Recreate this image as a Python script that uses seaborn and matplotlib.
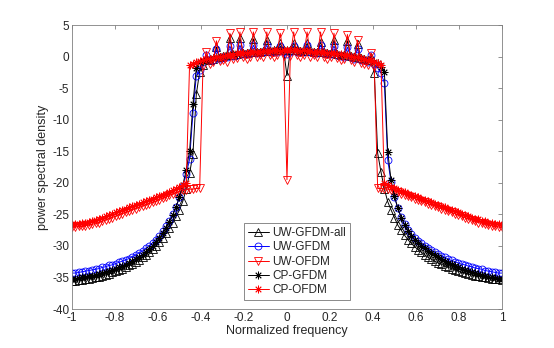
import numpy as np
import matplotlib
matplotlib.use('Agg')
import matplotlib.pyplot as plt
import seaborn as sns

# normalized frequency grid, step 1/64
freq = np.arange(-64, 65) / 64

uw_gfdm_all = [
    -35.5, -35.5, -35.4, -35.4, -35.3, -35.2, -35.1, -35.0, -34.9, -34.7,
    -34.6, -34.4, -34.2, -34.0, -33.8, -33.6, -33.3, -33.1, -32.8, -32.5,
    -32.2, -31.8, -31.4, -31.0, -30.5, -30.0, -29.4, -28.8, -28.0, -27.2,
    -26.3, -25.3, -24.3, -22.9, -21.0, -18.5,
    -15.5, -6.0,
    -2.4, -1.3, -0.3, -0.5, -0.3, 1.5, -0.1, 0.1, 0.2, 2.9,
    0.3, 0.4, 2.9, 0.6, 0.6, 0.7, 2.8, 0.8, 0.8, 0.9,
    2.6, 0.9, 1.0, 1.0, 2.1, 1.0, -3.0, 1.0, 2.1, 1.0,
    0.9, 0.9, 2.1, 0.9, 0.8, 0.8, 2.3, 0.7, 0.6, 0.6,
    2.6, 0.4, 0.3, 0.3, 2.5, 0.1, 0.0, 2.0, -0.2, -0.4,
    -0.5, 0.0,
    -2.6, -15.3, -18.3, -21.0, -23.0, -24.3, -25.5, -26.7, -27.5, -28.3,
    -29.0, -29.6, -30.1, -30.6, -31.0, -31.4, -31.8, -32.1, -32.4, -32.7,
    -32.9, -33.2, -33.4, -33.6, -33.8, -34.0, -34.2, -34.3, -34.5, -34.6,
    -34.7, -34.8, -34.9, -35.0, -35.1, -35.2, -35.3, -35.3, -35.4,
]

uw_gfdm = [
    -34.3, -34.3, -34.2, -34.1, -34.0, -33.9, -33.8, -33.7, -33.6, -33.4,
    -33.3, -33.1, -33.0, -32.8, -32.6, -32.4, -32.2, -32.0, -31.7, -31.4,
    -31.1, -30.8, -30.4, -30.0, -29.5, -29.0, -28.4, -27.7, -26.9, -26.0,
    -25.0, -23.8, -22.3, -20.5, -18.6, -16.3,
    -9.0, -3.0, -2.2,
    -0.9, 0.3, -0.6, -0.5, 1.2, -0.3, -0.1, 0.0, 1.7, 0.1,
    0.2, 1.8, 0.4, 0.4, 0.5, 1.8, 0.6, 0.6, 0.7, 1.8,
    0.7, 0.8, 0.8, 1.7, 0.8, 0.4, 0.8, 1.7, 0.8, 0.8,
    0.7, 1.8, 0.7, 0.6, 0.6, 1.8, 0.5, 0.4, 0.4, 1.7,
    0.2, 0.1, 0.0, 1.5, -0.1, -0.3, 1.2, -0.5, -0.6, -0.8,
    0.3, -1.2, -1.8,
    -2.6, -4.2,
    -16.4, -19.9, -22.3, -24.0, -25.4, -26.5, -27.4, -28.1, -28.7, -29.2,
    -29.6, -30.0, -30.4, -30.7, -31.0, -31.3, -31.6, -31.8, -32.1, -32.3,
    -32.5, -32.7, -32.9, -33.0, -33.2, -33.3, -33.5, -33.6, -33.7, -33.9,
    -34.0, -34.1, -34.2, -34.3, -34.3,
]

uw_ofdm = [
    -27.0, -27.0, -26.9, -26.9, -26.8, -26.7, -26.6, -26.4, -26.3, -26.1,
    -25.9, -25.7, -25.5, -25.3, -25.1, -24.9, -24.7, -24.5, -24.3, -24.1,
    -23.9, -23.7, -23.5, -23.3, -23.1, -22.9, -22.7, -22.4, -22.2, -22.0,
    -21.8, -21.6, -21.4, -21.2, -21.1, -21.0, -21.0, -20.9, -20.9,
    -1.5, 0.8, -1.2, -0.9, 2.5, -0.7, -0.5, -0.8, 3.7, -0.4,
    -0.2, 3.9, -0.1, -0.3, 0.0, 3.9, -0.1, 0.2, 0.0, 3.9,
    0.2, 0.0, 0.3, 3.7, 0.1, -19.5, 0.1, 3.9, 0.3, 0.0,
    0.2, 3.9, 0.0, 0.2, -0.1, 3.9, 0.0, -0.3, -0.1, 3.7,
    -0.2, -0.5, -0.3, 3.5, -0.6, -0.8, 2.6, -1.0, -1.2, -1.3,
    0.6, -1.6,
    -20.9, -20.9, -21.0, -21.0, -21.1, -21.3, -21.5, -21.7, -21.9, -22.1,
    -22.3, -22.5, -22.7, -22.9, -23.1, -23.3, -23.5, -23.7, -23.9, -24.1,
    -24.3, -24.5, -24.7, -24.9, -25.1, -25.3, -25.5, -25.7, -25.9, -26.1,
    -26.3, -26.4, -26.6, -26.7, -26.8, -26.9, -27.0, -27.0,
]

cp_gfdm = [
    -35.2, -35.2, -35.1, -35.0, -34.9, -34.8, -34.7, -34.6, -34.4, -34.3,
    -34.1, -34.0, -33.8, -33.6, -33.4, -33.2, -33.0, -32.7, -32.4, -32.1,
    -31.8, -31.4, -31.0, -30.5, -30.0, -29.4, -28.8, -28.0, -27.2, -26.2,
    -25.1, -23.8, -22.2, -20.3, -18.0, -15.0,
    -7.5, -1.8,
    -0.9, -0.7, -0.5, -0.4, -0.2, -0.1, 0.0, 0.1, 0.2, 0.3,
    0.4, 0.4, 0.5, 0.6, 0.6, 0.7, 0.8, 0.8, 0.8, 0.9,
    0.9, 0.9, 1.0, 1.0, 1.0, 1.0, 1.0, 1.0, 1.0, 1.0,
    0.9, 0.9, 0.9, 0.9, 0.8, 0.8, 0.7, 0.7, 0.6, 0.6,
    0.5, 0.4, 0.3, 0.3, 0.2, 0.1, 0.0, -0.1, -0.2, -0.4,
    -0.5, -0.6, -0.8, -1.0, -1.6,
    -2.4,
    -15.1, -19.6, -22.1, -24.0, -25.5, -26.7, -27.6, -28.4, -29.0, -29.5,
    -30.0, -30.4, -30.8, -31.2, -31.5, -31.8, -32.1, -32.4, -32.7, -32.9,
    -33.2, -33.4, -33.6, -33.8, -34.0, -34.2, -34.3, -34.5, -34.6, -34.7,
    -34.9, -35.0, -35.1, -35.2, -35.2,
]

cp_ofdm = [
    -26.6, -26.6, -26.5, -26.4, -26.3, -26.2, -26.0, -25.9, -25.7, -25.5,
    -25.3, -25.1, -24.9, -24.7, -24.5, -24.3, -24.1, -23.9, -23.7, -23.5,
    -23.3, -23.1, -22.9, -22.7, -22.5, -22.3, -22.1, -21.9, -21.7, -21.4,
    -21.2, -21.0, -20.7, -20.4, -20.1,
    -1.3, -1.1, -0.9, -0.7, -0.6, -0.4, -0.3, -0.2, 0.0, 0.0,
    0.1, 0.2, 0.3, 0.3, 0.5, 0.5, 0.6, 0.6, 0.7, 0.8,
    0.8, 0.8, 0.9, 0.9, 0.9, 1.0, 1.0, 0.9, 1.0, 1.1,
    1.0, 1.0, 1.0, 0.9, 1.0, 0.9, 0.9, 0.8, 0.8, 0.8,
    0.7, 0.6, 0.6, 0.5, 0.4, 0.4, 0.3, 0.2, 0.1, 0.0,
    -0.1, -0.2, -0.3, -0.5, -0.6, -0.8, -1.0, -1.3,
    -20.1, -20.4, -20.6, -20.9, -21.1, -21.3, -21.5, -21.7, -21.9, -22.1,
    -22.3, -22.5, -22.7, -22.9, -23.1, -23.3, -23.5, -23.7, -23.9, -24.1,
    -24.3, -24.5, -24.7, -24.9, -25.1, -25.3, -25.5, -25.7, -25.8, -26.0,
    -26.1, -26.3, -26.4, -26.5, -26.6, -26.7,
]

xtick_vals = [-1, -0.8, -0.6, -0.4, -0.2, 0, 0.2, 0.4, 0.6, 0.8, 1]
xtick_labels = ['-1', '-0.8', '-0.6', '-0.4', '-0.2', '0', '0.2', '0.4', '0.6', '0.8', '1']
ytick_vals = [-40, -35, -30, -25, -20, -15, -10, -5, 0, 5]

sns.set_style('white')
plt.rcParams['font.family'] = ['Liberation Sans', 'DejaVu Sans']
plt.rcParams['axes.unicode_minus'] = False

fig = plt.figure(figsize=(5.54, 3.48), dpi=100)
ax = fig.add_axes([0.130, 0.112, 0.776, 0.816])

star = (8, 2, 0)
series = [
    ('UW-GFDM-all', uw_gfdm_all, 'black', '^', 5.5),
    ('UW-GFDM', uw_gfdm, 'blue', 'o', 5.0),
    ('UW-OFDM', uw_ofdm, 'red', 'v', 5.5),
    ('CP-GFDM', cp_gfdm, 'black', star, 5.5),
    ('CP-OFDM', cp_ofdm, 'red', star, 5.5),
]
for name, vals, c, m, ms in series:
    sns.lineplot(x=freq, y=vals, ax=ax, color=c, marker=m, markersize=ms,
                 markerfacecolor='none', markeredgecolor=c, markeredgewidth=0.6,
                 linewidth=0.7, label=name, estimator=None, sort=False)

ax.set_xlim(-1, 1)
ax.set_ylim(-40, 5)
ax.set_xticks(xtick_vals)
ax.set_xticklabels(xtick_labels)
ax.set_yticks(ytick_vals)
ax.set_yticklabels([str(v) for v in ytick_vals])
ax.tick_params(direction='in', length=3, width=0.6, color='#808080',
               top=True, right=True, labelsize=8.5, labelcolor='#262626', pad=2)
for sp in ax.spines.values():
    sp.set_visible(True)
    sp.set_color('#808080')
    sp.set_linewidth(0.6)

ax.set_xlabel('Normalized frequency', fontsize=9, color='#262626', labelpad=1)
ax.set_ylabel('power spectral density', fontsize=9, color='#262626', labelpad=2)

leg = ax.legend(loc='lower left', bbox_to_anchor=(0.4, 0.032), frameon=True,
                fancybox=False, edgecolor='#777777', framealpha=1, fontsize=8.5,
                handlelength=1.8, borderpad=0.3, labelspacing=0.2,
                handletextpad=0.3, borderaxespad=0)
leg.get_frame().set_linewidth(0.6)

fig.savefig('out.png', dpi=100)
